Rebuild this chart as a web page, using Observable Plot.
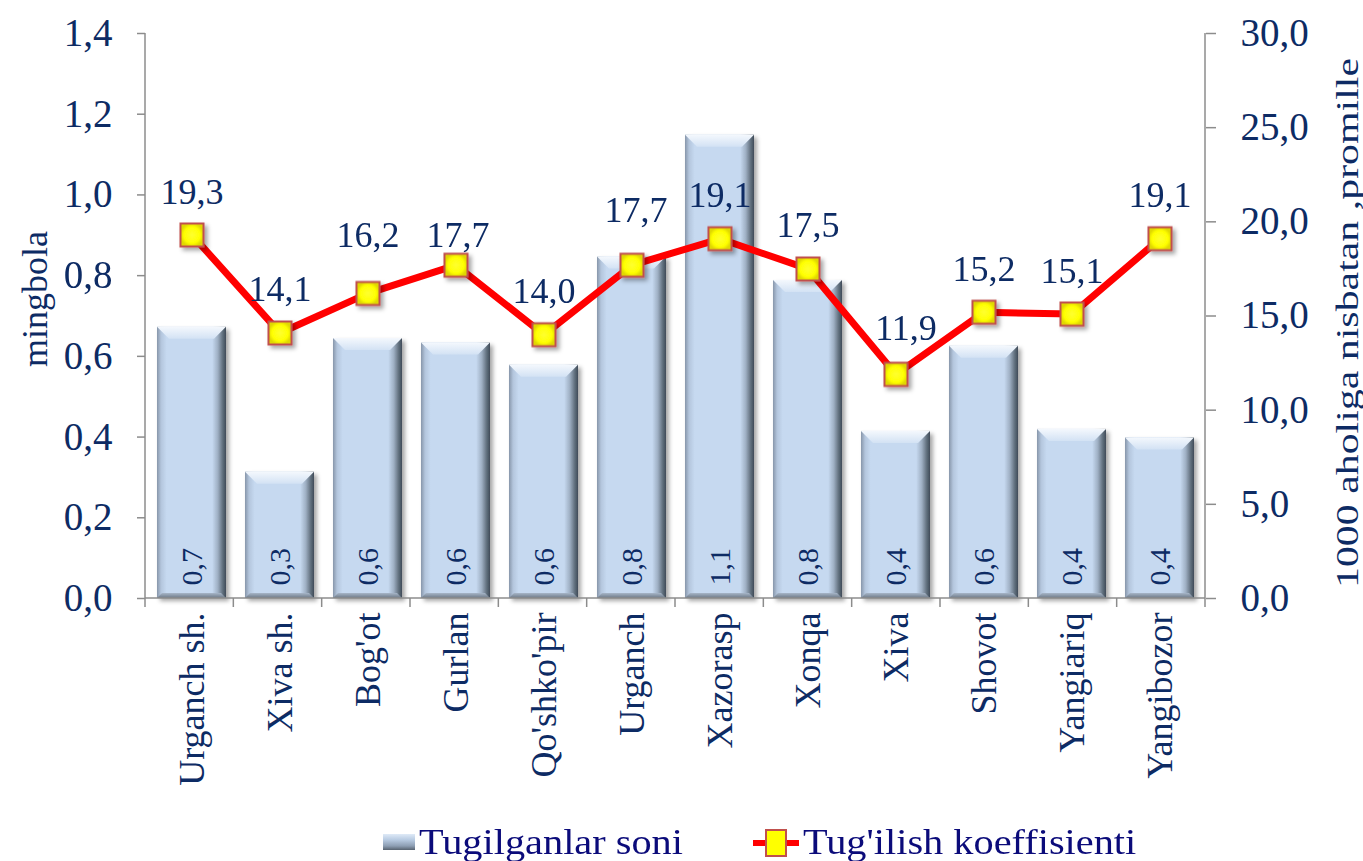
<!DOCTYPE html>
<html>
<head>
<meta charset="utf-8">
<script src="https://cdn.jsdelivr.net/npm/d3@7"></script>
<script src="https://cdn.jsdelivr.net/npm/@observablehq/plot@0.6"></script>
<style>
  html, body { margin: 0; padding: 0; background: #fff; }
  body { position: relative; width: 1363px; height: 861px; overflow: hidden; font-family: "Liberation Serif", "Times New Roman", serif; }
  #legend { position: absolute; left: 383px; top: 824px; height: 40px; white-space: nowrap; color: #0b0b7a; font-size: 36px; line-height: 36px; }
  #legend .item { position: absolute; top: 0; }
  #legend .txt { display: inline-block; transform: scaleX(1.12); transform-origin: left center; }
  #legend .sw1 { position: absolute; width: 32px; height: 16px; top: 10px; left: 0;
    background: linear-gradient(to bottom, #dfeaf7 0%, #b9cce3 35%, #8c9db2 75%, #56626f 100%); }
</style>
</head>
<body>
<div id="chart"></div>
<div id="legend">
  <div class="item" style="left:0px;"><span class="sw1"></span><span class="txt" style="margin-left:36px;">Tugilganlar soni</span></div>
  <div class="item" style="left:368px;">
    <svg width="50" height="36" style="position:absolute;left:0;top:0;">
      <line x1="2" y1="19" x2="48" y2="19" stroke="#ff0000" stroke-width="6"/>
      <rect x="15" y="6" width="20" height="26" fill="#ffff00" stroke="#c0504d" stroke-width="2"/>
    </svg>
    <span class="txt" style="margin-left:52px;">Tug'ilish koeffisienti</span>
  </div>
</div>
<script>
// ---- data ----
const districts = ["Urganch sh.", "Xiva sh.", "Bog'ot", "Gurlan", "Qo'shko'pir", "Urganch", "Xazorasp", "Xonqa", "Xiva", "Shovot", "Yangiariq", "Yangibozor"];
const births = [0.672, 0.313, 0.644, 0.633, 0.578, 0.846, 1.148, 0.788, 0.414, 0.625, 0.419, 0.398]; // ming bola
const rates = [19.3, 14.1, 16.2, 17.7, 14.0, 17.7, 19.1, 17.5, 11.9, 15.2, 15.1, 19.1]; // promille
const leftTicks = [0, 0.2, 0.4, 0.6, 0.8, 1.0, 1.2, 1.4];
const rightTicks = [0, 5, 10, 15, 20, 25, 30];
const leftTitle = "mingbola";
const rightTitle = "1000 aholiga nisbatan ,promille";

// ---- setup ----
const navy = "#0d2b64";
const fmt1 = v => (Math.round(v * 10) / 10).toFixed(1).replace(".", ",");
const k = 1.4 / 30; // right-axis units -> left-axis units
const table = districts.map((d, i) => ({district: d, births: births[i], rate: rates[i]}));

// label offsets (style)
const nudges = {"Bog'ot": [0, -58], "Gurlan": [2, -30], "Urganch": [4, -55], "Xiva": [10, -46]};
const labelStyle = {x: "district", y: d => d.rate * k, text: d => fmt1(d.rate), fontSize: 36, fill: navy};
const labelMarks = [
  Plot.text(table.filter(d => !(d.district in nudges)), {...labelStyle, dy: -43}),
  ...Object.entries(nudges).map(([key, [dx, dy]]) =>
    Plot.text(table.filter(d => d.district === key), {...labelStyle, dx, dy}))
];

const plot = Plot.plot({
  width: 1363,
  height: 820,
  marginLeft: 145,
  marginRight: 158,
  marginTop: 33,
  marginBottom: 222,
  style: {fontFamily: '"Liberation Serif", "Times New Roman", serif', background: "transparent", color: navy, overflow: "visible"},
  x: {type: "band", domain: districts, paddingInner: 0.22, paddingOuter: 0.11},
  y: {domain: [0, 1.4]},
  marks: [
    Plot.barY(table, {x: "district", y: "births", fill: "url(#barGrad)"}),
    Plot.text(table, {x: "district", y: 0, text: d => fmt1(d.births), rotate: -90, textAnchor: "start", dy: -13, fontSize: 30, fill: navy}),
    Plot.line(table, {x: "district", y: d => d.rate * k, stroke: "#ff0000", strokeWidth: 7}),
    Plot.dot(table, {x: "district", y: d => d.rate * k, symbol: "square", r: 13, fill: "url(#dotGrad)", stroke: "#c0504d", strokeWidth: 2}),
    ...labelMarks,
    Plot.axisY({anchor: "left", ticks: leftTicks, tickFormat: fmt1, tickSize: 8, tickPadding: 25, fontSize: 39, label: null}),
    Plot.axisY({anchor: "right", ticks: rightTicks.map(r => r * k), tickFormat: v => fmt1(v / k), tickSize: 10, tickPadding: 25, fontSize: 39, label: null}),
    Plot.axisX({tickRotate: -90, tickSize: 0, tickPadding: 14, fontSize: 36, label: null}),
    Plot.text([leftTitle], {frameAnchor: "left", text: d => d, rotate: -90, textAnchor: "middle", dx: -110, dy: -17, fontSize: 36, fill: navy}),
    Plot.text([rightTitle], {frameAnchor: "right", text: d => d, rotate: -90, textAnchor: "middle", dx: 142, dy: 7, fontSize: 32, fill: navy})
  ]
});

document.getElementById("chart").appendChild(plot);

// ---- post styling ----
const svg = d3.select(plot);
const defs = svg.insert("defs", ":first-child");
function lin(id, stops, vertical) {
  const g = defs.append("linearGradient").attr("id", id)
    .attr("x1", 0).attr("y1", 0).attr("x2", vertical ? 0 : 1).attr("y2", vertical ? 1 : 0);
  stops.forEach(([o, c]) => g.append("stop").attr("offset", o).attr("stop-color", c));
}
lin("barGrad", [[0, "#8796aa"], [0.06, "#b4c6dd"], [0.14, "#c6d9f0"], [0.8, "#c6d9f0"], [0.88, "#9fb0c4"], [0.95, "#63717f"], [1, "#3f4b58"]]);
lin("bevelGrad", [[0, "#f4f8fd"], [1, "#d3e2f4"]], true);
lin("bottomGrad", [[0, "#a7b6c8"], [1, "#6c7886"]], true);
const rg = defs.append("radialGradient").attr("id", "dotGrad");
[[0, "#ffff30"], [0.7, "#ffff00"], [1, "#e0d800"]].forEach(([o, c]) => rg.append("stop").attr("offset", o).attr("stop-color", c));
const f = defs.append("filter").attr("id", "shadow").attr("x", "-20%").attr("y", "-20%").attr("width", "150%").attr("height", "150%");
f.append("feDropShadow").attr("dx", 3).attr("dy", 3).attr("stdDeviation", 2).attr("flood-color", "#000").attr("flood-opacity", 0.35);

svg.selectAll('g[aria-label="bar"] rect').each(function () {
  const x = +this.getAttribute("x"), y = +this.getAttribute("y"), w = +this.getAttribute("width"), h = +this.getAttribute("height");
  const b = 12, bb = 5;
  const p = d3.select(this.parentNode);
  p.append("polygon").attr("points", `${x},${y} ${x + w},${y} ${x + w - b},${y + b} ${x + b},${y + b}`).attr("fill", "url(#bevelGrad)");
  p.append("polygon").attr("points", `${x},${y + h} ${x + w},${y + h} ${x + w - bb},${y + h - bb} ${x + bb},${y + h - bb}`).attr("fill", "url(#bottomGrad)");
});
svg.selectAll('g[aria-label="bar"], g[aria-label="dot"]').attr("filter", "url(#shadow)");

svg.selectAll('g[aria-label$="tick label"], g[aria-label$="tick label"] text').attr("fill", navy);
svg.selectAll('g[aria-label$="-axis tick"]').attr("stroke", "#8c8c8c").attr("stroke-width", 1.5);

// fit the long right-hand title to the reference's extent
svg.selectAll("text").filter(function () { return this.textContent === rightTitle; })
  .attr("textLength", 530).attr("lengthAdjust", "spacingAndGlyphs");

// axis lines and category boundary ticks via the plot's own scales
const xs = plot.scale("x"), ys = plot.scale("y");
const [xa, xb] = xs.range, [ya, yb] = ys.range;
const step = (xb - xa) / districts.length;
const axes = svg.append("g").attr("stroke", "#8c8c8c").attr("stroke-width", 1.5).attr("fill", "none");
axes.append("line").attr("x1", xa).attr("x2", xa).attr("y1", ya).attr("y2", yb);
axes.append("line").attr("x1", xb).attr("x2", xb).attr("y1", ya).attr("y2", yb);
axes.append("line").attr("x1", xa).attr("x2", xb).attr("y1", ya).attr("y2", ya);
d3.range(districts.length + 1).forEach(i => {
  axes.append("line").attr("x1", xa + i * step).attr("x2", xa + i * step).attr("y1", ya).attr("y2", ya + 9);
});
</script>
</body>
</html>
